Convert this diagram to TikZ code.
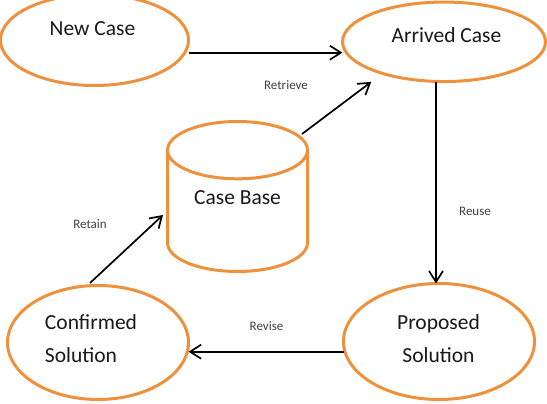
\documentclass[tikz,border=0pt]{standalone}
\usepackage{fontspec}
\setmainfont{Carlito}
\usepackage{tikz}
\usetikzlibrary{arrows.meta, positioning, shapes.geometric}
\definecolor{caseorange}{RGB}{238,145,60}
\definecolor{tagtext}{RGB}{64,64,64}

\begin{document}
\begin{tikzpicture}[x=1pt, y=1pt,
    stage/.style={ellipse, draw=caseorange, line width=3pt, fill=white, outer sep=0pt, inner sep=0pt},
    casetext/.style={font=\fontsize{21.5}{33.3}\selectfont, text=black!90, inner sep=0pt},
    tag/.style={font=\fontsize{13}{15}\selectfont, text=tagtext, inner sep=0pt},
    flow/.style={-{Straight Barb[length=11pt, width=14pt]}, line width=1.7pt}]
% Page frame
\clip (0,0) rectangle (547,404);

% Cycle stages
\node[stage, minimum width=188pt, minimum height=91pt] (new) at (94.5,364) {};
\node[casetext] (newtxt) at (92.5,375) {New Case};

\node[stage, minimum width=203pt, minimum height=79.5pt] (arr) at (444,362.2) {};
\node[casetext] (arrtxt) at (446.5,368.8) {Arrived Case};

\node[stage, minimum width=191pt, minimum height=116pt] (prop) at (439,62.5) {};
\node[casetext, align=center] (proptxt) at (438.5,65.4) {Proposed\\Solution};

\node[stage, minimum width=181pt, minimum height=114pt] (conf) at (98,61.5) {};
\node[casetext, align=left] (conftxt) at (91,65.4) {Confirmed\\Solution};

% Case base
\node[cylinder, shape border rotate=90, aspect=0.66, draw=caseorange, line width=3pt, fill=white,
      minimum width=140pt, minimum height=150pt, outer sep=0pt, casetext, text depth=29pt,
      anchor=shape center] (base) at (237.5,207.5) {Case Base};

% Connectors
\draw[flow] ([yshift=-12.7pt]new.east) -- ([yshift=-12.7pt]new.east -| arr.west);
\draw[flow] ([shift={(64.5,62.5)}]base.shape center) -- ([shift={(-1,-12)}]arr.south west);
\draw[flow] ([xshift=-8pt]arr.south) -- ([xshift=-8pt]arr.south |- prop.north);
\draw[flow] ([yshift=-10.2pt]prop.west) -- ([yshift=-10.2pt]prop.west -| conf.east);
\draw[flow] ([xshift=-8pt,yshift=2.5pt]conf.north) -- ([shift={(-74.5,-18.5)}]base.shape center);

% Step labels
\node[tag] (retrieve) at (286,319) {Retrieve};
\node[tag] (reuse) at (475,193) {Reuse};
\node[tag] (revise) at (266.5,78) {Revise};
\node[tag] (retain) at (90,180) {Retain};

\end{tikzpicture}
\end{document}
